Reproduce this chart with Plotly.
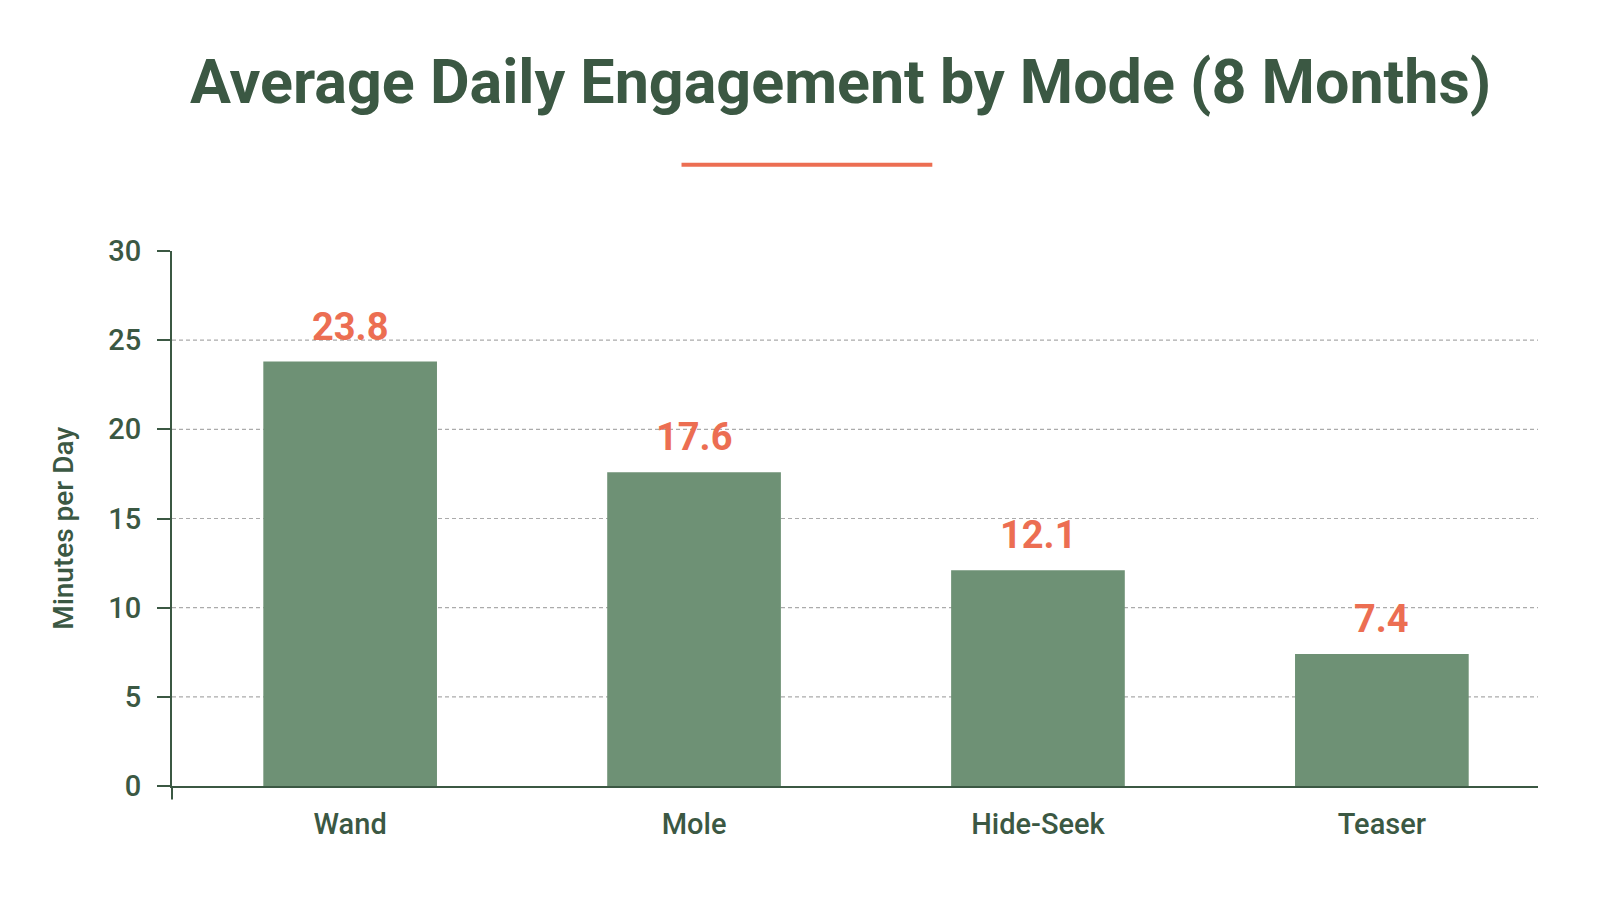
import plotly.graph_objects as go

# chart data
modes = ["Wand", "Mole", "Hide-Seek", "Teaser"]
minutes = [23.8, 17.6, 12.1, 7.4]
y_ticks = [0, 5, 10, 15, 20, 25, 30]
grid_levels = [5, 10, 15, 20, 25]

dark_green = "#3b5843"
bar_green = "#6e9175"
orange = "#ec6e52"
font_name = "Roboto"

fig = go.Figure()

fig.add_trace(go.Bar(
    x=modes,
    y=minutes,
    width=0.505,
    marker=dict(color=bar_green, line=dict(width=0)),
    hoverinfo="skip",
))

# value labels above each bar
for m, v in zip(modes, minutes):
    fig.add_annotation(x=m, y=v, text=f"<b>{v:.1f}</b>", showarrow=False,
                       yanchor="bottom", yshift=11,
                       font=dict(family=font_name, size=38, color=orange))

# dashed gridlines (not at 0 or 30)
for g in grid_levels:
    fig.add_shape(type="line", xref="paper", yref="y", x0=0, x1=1, y0=g, y1=g,
                  line=dict(color="#ababab", width=1.2, dash="4px,3px"), layer="below")

# orange underline below title
fig.add_shape(type="line", xref="paper", yref="paper", x0=0.373, x1=0.5566,
              y0=1.161, y1=1.161, line=dict(color=orange, width=4))

# little extension of the y axis below the baseline
fig.add_shape(type="line", xref="paper", yref="paper", x0=0, x1=0,
              y0=0, y1=-0.025, line=dict(color=dark_green, width=2))

# rotated y axis title
fig.add_annotation(xref="paper", yref="paper", x=-0.08, y=0.482,
                   text="Minutes per Day", textangle=-90, showarrow=False,
                   xanchor="center", yanchor="middle",
                   font=dict(family=font_name, size=28, color=dark_green, weight=500))

fig.update_layout(
    width=1599,
    height=900,
    margin=dict(l=164, r=69, t=243, b=122),
    paper_bgcolor="white",
    plot_bgcolor="white",
    showlegend=False,
    title=dict(
        text="<b>Average Daily Engagement by Mode (8 Months)</b>",
        x=0.5207, xanchor="center", y=0.918, yanchor="middle",
        font=dict(family=font_name, size=61, color=dark_green),
    ),
    xaxis=dict(
        range=[-0.518, 3.454],
        showline=True, linecolor=dark_green, linewidth=2,
        ticks="", showgrid=False,
        ticklabelstandoff=11,
        tickfont=dict(family=font_name, size=29, color=dark_green, weight=500),
    ),
    yaxis=dict(
        range=[0, 30],
        tickvals=y_ticks,
        showline=True, linecolor=dark_green, linewidth=2,
        ticks="outside", ticklen=13, tickwidth=2, tickcolor=dark_green,
        ticklabelstandoff=10,
        showgrid=False, zeroline=False,
        tickfont=dict(family=font_name, size=29, color=dark_green, weight=500),
    ),
)

fig.write_html("out.html")
